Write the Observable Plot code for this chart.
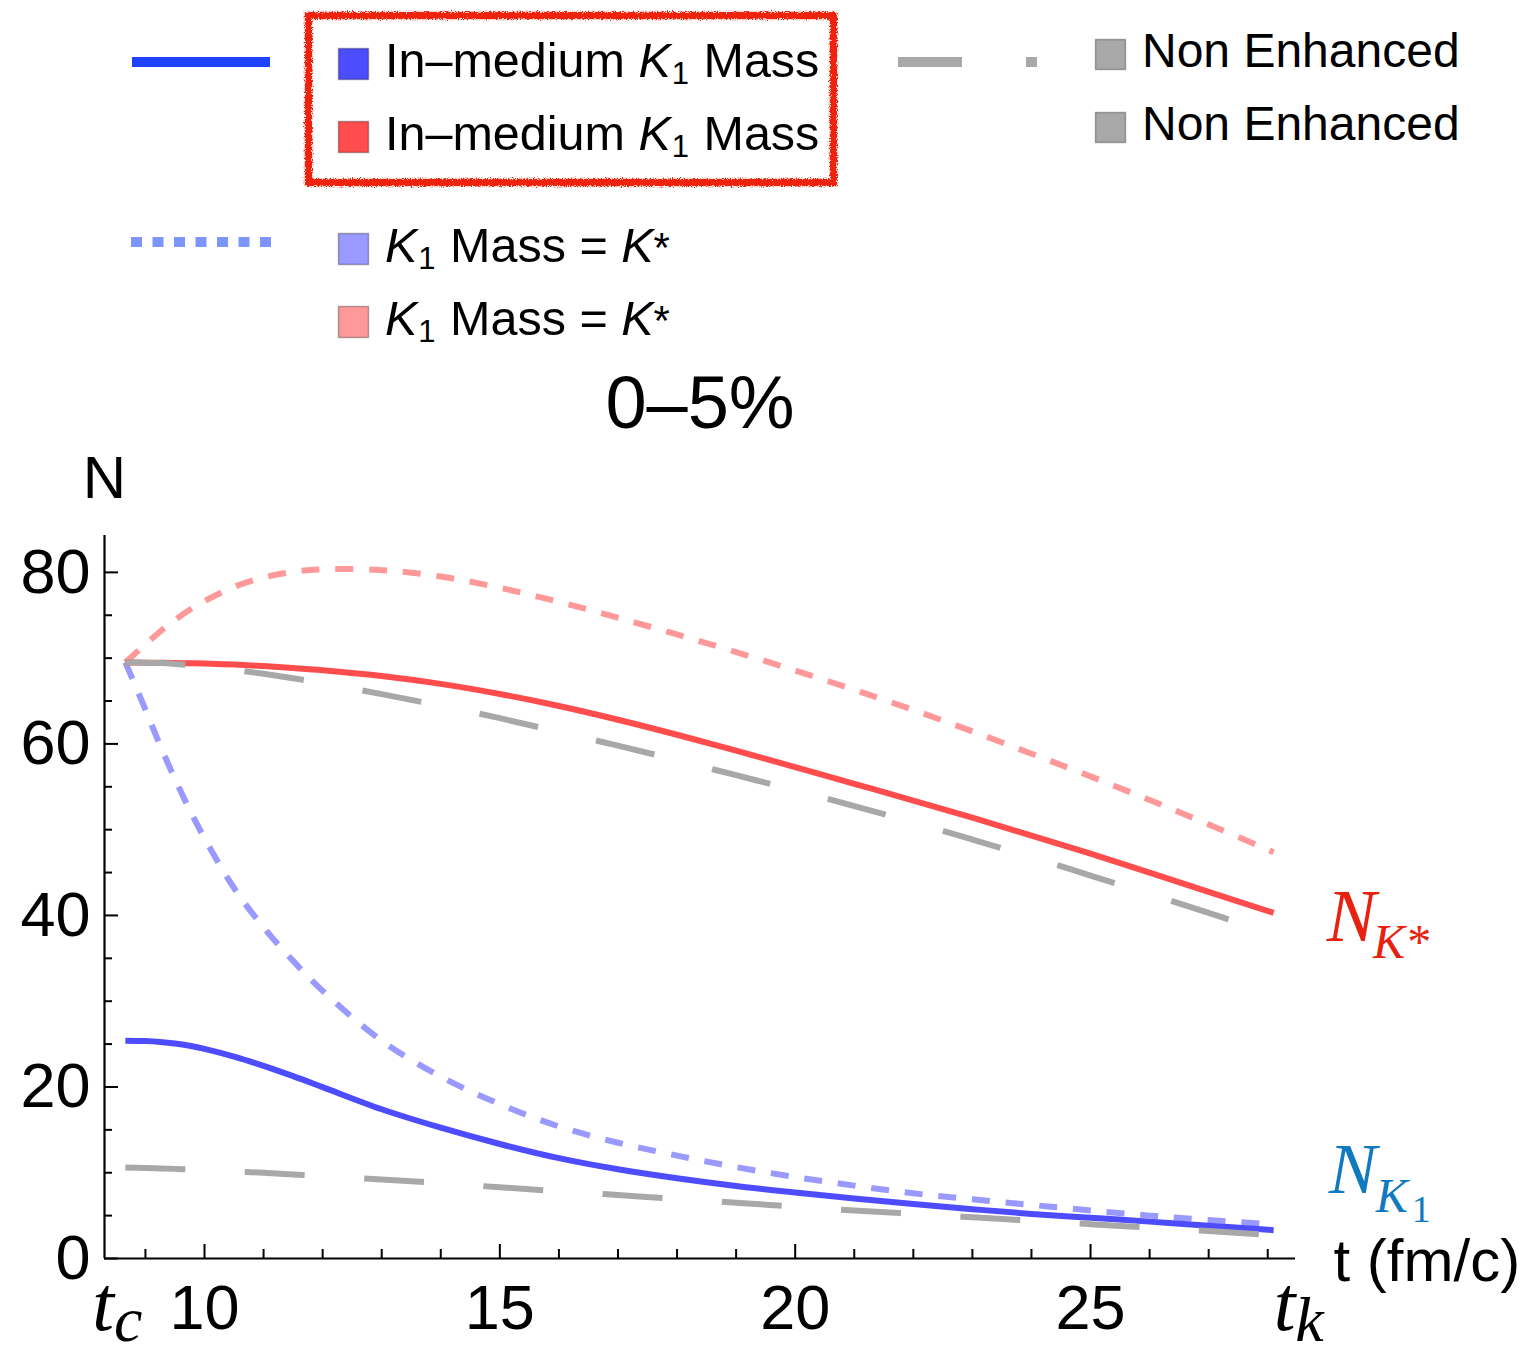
<!DOCTYPE html>
<html><head><meta charset="utf-8">
<script src="https://cdn.jsdelivr.net/npm/d3@7"></script>
<script src="https://cdn.jsdelivr.net/npm/@observablehq/plot@0.6"></script>
<style>
html,body{margin:0;padding:0;background:#fff;}
#wrap{position:relative;width:1526px;height:1355px;font-family:"Liberation Sans",Arial,Helvetica,sans-serif;}
#legend{position:absolute;left:0;top:0;}
#chart{position:absolute;left:0;top:360px;}
</style></head>
<body><div id="wrap"><div id="legend"></div><div id="chart"></div></div>
<script>
// ---- data ----
const time = [8.66, 9, 9.25, 9.5, 9.75, 10, 10.5, 11, 11.5, 12, 13, 14, 15, 16, 17, 18, 19, 20, 21, 22, 23, 24, 25, 26, 27, 28.1];
const nKstarInMedium = [69.5, 69.47, 69.45, 69.42, 69.4, 69.37, 69.25, 69.07, 68.85, 68.6, 67.92, 67.0, 65.82, 64.42, 62.82, 61.07, 59.22, 57.3, 55.35, 53.4, 51.4, 49.3, 47.2, 45.0, 42.75, 40.3];
const nKstarNonEnh   = [69.5, 69.47, 69.42, 69.33, 69.2, 69.04, 68.63, 68.17, 67.65, 67.08, 65.8, 64.45, 63.0, 61.4, 59.8, 58.1, 56.35, 54.6, 52.75, 50.85, 48.85, 46.8, 44.65, 42.5, 40.3, 37.8];
const nKstarSameMass = [69.5, 71.61, 73.11, 74.46, 75.64, 76.66, 78.31, 79.41, 80.06, 80.36, 80.26, 79.51, 78.21, 76.56, 74.71, 72.76, 70.71, 68.56, 66.31, 63.96, 61.46, 58.86, 56.21, 53.46, 50.61, 47.37];
const nK1InMedium    = [25.4, 25.35, 25.25, 25.07, 24.8, 24.44, 23.54, 22.46, 21.26, 19.98, 17.4, 15.25, 13.35, 11.7, 10.4, 9.35, 8.45, 7.7, 7.0, 6.35, 5.75, 5.2, 4.75, 4.3, 3.83, 3.3];
const nK1NonEnh      = [10.6, 10.55, 10.5, 10.45, 10.4, 10.3, 10.15, 10.0, 9.8, 9.6, 9.2, 8.8, 8.3, 7.85, 7.4, 6.95, 6.5, 6.05, 5.6, 5.2, 4.8, 4.4, 4.0, 3.6, 3.2, 2.7];
const nK1SameMass    = [69.5, 64.0, 59.8, 55.9, 52.3, 49.0, 43.2, 38.6, 34.7, 31.2, 25.4, 21.2, 18.0, 15.4, 13.5, 12.0, 10.65, 9.5, 8.5, 7.6, 6.9, 6.25, 5.6, 5.0, 4.5, 3.95];

const xDomain = [8.307, 28.47];
const yDomain = [0, 84.3];
const xMajor = [10, 15, 20, 25];
const xMinor = [9, 11, 12, 13, 14, 16, 17, 18, 19, 21, 22, 23, 24, 26, 27, 28];
const yMajor = [0, 20, 40, 60, 80];
const yMinor = [5, 10, 15, 25, 30, 35, 45, 50, 55, 65, 70, 75];
const title = "0–5%";
const yLabel = "N";
const xLabel = "t (fm/c)";
const startLabel = "t_c";
const endLabel = "t_k";
const kstarLabel = "N_K*";
const k1Label = "N_K_1";

// ---- legend (SVG above the chart) ----
const C = {
  blue: "#4d4dff", red: "#ff4d4d", lblue: "#9999ff", lred: "#ff9999", gray: "#a8a8a8",
  legBlue: "#1f42ff", legDot: "#7d95ff", box: "#ee2211", nk: "#e8200e", nk1: "#0f7abf"
};
const K1 = '<tspan font-style="italic">K</tspan><tspan font-size="31" dx="1" dy="7">1</tspan><tspan dx="1" dy="-7">';
const legendHTML = `
<svg width="1526" height="360" xmlns="http://www.w3.org/2000/svg" style="font-family:'Liberation Sans',Arial,sans-serif">
  <defs><filter id="rough" x="-5%" y="-10%" width="110%" height="120%">
    <feTurbulence type="fractalNoise" baseFrequency="0.8" numOctaves="2" seed="3" result="n"/>
    <feDisplacementMap in="SourceGraphic" in2="n" scale="6"/></filter></defs>
  <rect x="308.5" y="15.5" width="525" height="167" fill="none" stroke="${C.box}" stroke-width="7.5" filter="url(#rough)"/>
  <line x1="132" x2="270" y1="62" y2="62" stroke="${C.legBlue}" stroke-width="10"/>
  <line x1="898" x2="1037" y1="62" y2="62" stroke="${C.gray}" stroke-width="10" stroke-dasharray="64,64"/>
  <line x1="131" x2="271" y1="242" y2="242" stroke="${C.legDot}" stroke-width="10" stroke-dasharray="11,10.5"/>
  <g stroke="rgba(0,0,0,0.3)" stroke-width="1.5">
    <rect x="338.5" y="48.5" width="30" height="31" fill="${C.blue}"/>
    <rect x="338.5" y="121.5" width="30" height="31" fill="${C.red}"/>
    <rect x="338.5" y="233.5" width="30" height="31" fill="${C.lblue}"/>
    <rect x="338.5" y="306.5" width="30" height="31" fill="${C.lred}"/>
    <rect x="1095.5" y="39.5" width="30" height="30" fill="${C.gray}"/>
    <rect x="1095.5" y="112.5" width="30" height="30" fill="${C.gray}"/>
  </g>
  <g font-size="48.5" fill="#000">
    <text x="385" y="77">In–medium ${K1} Mass</tspan></text>
    <text x="385" y="150">In–medium ${K1} Mass</tspan></text>
    <text x="385" y="262">${K1} Mass = </tspan><tspan font-style="italic">K</tspan><tspan font-size="42">*</tspan></text>
    <text x="385" y="335">${K1} Mass = </tspan><tspan font-style="italic">K</tspan><tspan font-size="42">*</tspan></text>
    <text x="1142" y="67" font-size="48">Non Enhanced</text>
    <text x="1142" y="140" font-size="48">Non Enhanced</text>
  </g>
</svg>`;
document.getElementById("legend").innerHTML = legendHTML;

// ---- chart ----
const pts = arr => time.map((t, i) => [t, arr[i]]);
const lineOpts = (stroke, dash) => ({
  x: d => d[0], y: d => d[1], stroke, strokeWidth: 6,
  strokeDasharray: dash, strokeLinecap: "butt", strokeLinejoin: "round", curve: "catmull-rom"
});
const tc = time[0], tk = time[time.length - 1];
const serif = '"Liberation Serif", "Times New Roman", serif';
const endK = [[tk, nKstarInMedium[nKstarInMedium.length - 1]]];
const endK1 = [[tk, nK1InMedium[nK1InMedium.length - 1]]];
const at = {x: d => d[0], y: d => d[1], textAnchor: "start", lineAnchor: "bottom", fontFamily: serif, fontStyle: "italic"};

const chart = Plot.plot({
  width: 1526, height: 995,
  marginLeft: 104, marginRight: 231, marginTop: 175, marginBottom: 97,
  x: {domain: xDomain}, y: {domain: yDomain},
  style: {fontFamily: '"Liberation Sans", Arial, sans-serif', background: "#fff", overflow: "visible", color: "#000"},
  marks: [
    Plot.line(pts(nKstarSameMass), lineOpts(C.lred, "18,15.8")),
    Plot.line(pts(nK1SameMass), lineOpts(C.lblue, "18,15.8")),
    Plot.line(pts(nKstarInMedium), lineOpts(C.red)),
    Plot.line(pts(nK1InMedium), lineOpts(C.blue)),
    Plot.line(pts(nKstarNonEnh), lineOpts(C.gray, "60,59.5")),
    Plot.line(pts(nK1NonEnh), lineOpts(C.gray, "60,59.5")),
    Plot.ruleX([xDomain[0]], {strokeWidth: 2.2}),
    Plot.ruleY([0], {strokeWidth: 2.2}),
    Plot.axisY(yMinor, {tickSize: -8, text: null, strokeWidth: 2, label: null}),
    Plot.axisY(yMajor, {tickSize: -14, text: null, strokeWidth: 2, label: null}),
    Plot.axisY(yMajor, {tickSize: 0, tickPadding: 14, fontSize: 63, label: null}),
    Plot.axisX(xMinor, {tickSize: -9, text: null, strokeWidth: 2, label: null}),
    Plot.axisX(xMajor, {tickSize: -14, text: null, strokeWidth: 2, label: null}),
    Plot.axisX(xMajor, {tickSize: 0, tickPadding: 26, fontSize: 63, label: null}),
    Plot.text([title], {frameAnchor: "top", text: d => d, fontSize: 74, lineAnchor: "bottom", dy: -108}),
    Plot.text([yLabel], {frameAnchor: "top-left", text: d => d, fontSize: 60, textAnchor: "middle", lineAnchor: "bottom", dy: -38}),
    Plot.text([xLabel], {frameAnchor: "bottom-right", text: d => d, fontSize: 60, textAnchor: "start", lineAnchor: "bottom", dx: 38, dy: 22}),
    // t_c and t_k below the axis
    Plot.text([tc], {x: d => d, frameAnchor: "bottom", text: () => startLabel, fontFamily: serif, fontStyle: "italic", fontSize: 78, textAnchor: "start", lineAnchor: "bottom", dx: -33, dy: 71}),
    Plot.text([tk], {x: d => d, frameAnchor: "bottom", text: () => endLabel, fontFamily: serif, fontStyle: "italic", fontSize: 78, textAnchor: "start", lineAnchor: "bottom", dx: 0, dy: 71}),
    // curve labels
    Plot.text(endK, {...at, text: () => kstarLabel, fontSize: 74, fill: C.nk, dx: 53, dy: 28}),
    Plot.text(endK1, {...at, text: () => k1Label, fontSize: 72, fill: C.nk1, dx: 55, dy: -37})
  ]
});

// turn "a_b_c" labels into one text with nested subscripts
const subStyles = {
  [startLabel]: [{size: 64, dx: 0, dy: 11}],
  [endLabel]: [{size: 64, dx: 0, dy: 11}],
  [kstarLabel]: [{size: 48, dx: -3, dy: 17}],
  [k1Label]: [{size: 48, dx: -1, dy: 19}, {size: 38, dx: 4, dy: 10, style: "normal"}]
};
const NS = "http://www.w3.org/2000/svg";
chart.querySelectorAll("text").forEach(el => {
  const s = el.textContent;
  if (!subStyles[s]) return;
  const parts = s.split("_");
  el.textContent = "";
  parts.forEach((p, i) => {
    const ts = document.createElementNS(NS, "tspan");
    ts.textContent = p;
    if (i > 0) {
      const st = subStyles[s][i - 1];
      ts.setAttribute("font-size", st.size);
      ts.setAttribute("dx", st.dx);
      ts.setAttribute("dy", st.dy);
      if (st.style) ts.setAttribute("font-style", st.style);
    }
    el.appendChild(ts);
  });
});
document.getElementById("chart").appendChild(chart);
</script></body></html>
